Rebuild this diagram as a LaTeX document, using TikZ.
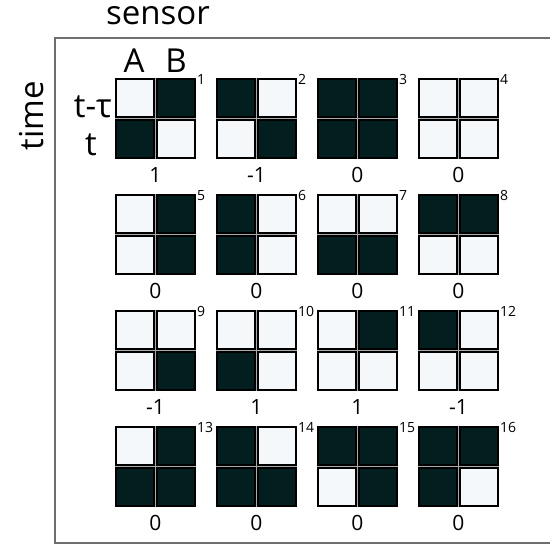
\documentclass[tikz,border=0pt]{standalone}
\usepackage{fontspec}
\setmainfont{Open Sans}
\definecolor{dk}{RGB}{3,30,30}
\definecolor{lt}{RGB}{245,248,250}
\definecolor{gapc}{RGB}{170,170,170}
\definecolor{frm}{RGB}{110,110,110}
\tikzset{
  cell/.style={draw=black,line width=1.7pt,minimum size=38.3pt,inner sep=0pt,outer sep=0pt},
  darkc/.style={cell,fill=dk},
  lightc/.style={cell,fill=lt},
  idx/.style={font=\fontsize{14}{14}\selectfont,anchor=base west,inner sep=0pt},
  val/.style={font=\fontsize{21}{21}\selectfont,anchor=base,inner sep=0pt},
  big/.style={font=\fontsize{33}{33}\selectfont,inner sep=0pt}
}
\begin{document}
\begin{tikzpicture}[x=1pt,y=-1pt]
\useasboundingbox (0,0) rectangle (550,544);
\draw[frm,line width=1.5pt] (55,38) rectangle (570,543);
\node[big,anchor=base] (sensor) at (158,24) {sensor};
\node[big,anchor=base,rotate=90] (time) at (43,116) {time};
\node[big,anchor=base] (A) at (134,72) {A};
\node[big,anchor=base] (B) at (176,72) {B};
\node[big,anchor=base east] (ttau) at (112,117) {t-τ};
\node[big,anchor=base east] (t) at (97,155) {t};
\foreach \n/\a/\b/\c/\d/\v in {
  1/0/1/1/0/1, 2/1/0/0/1/-1, 3/1/1/1/1/0, 4/0/0/0/0/0,
  5/0/1/0/1/0, 6/1/0/1/0/0, 7/0/0/1/1/0, 8/1/1/0/0/0,
  9/0/0/0/1/-1, 10/0/0/1/0/1, 11/0/1/0/0/1, 12/1/0/0/0/-1,
  13/0/1/1/1/0, 14/1/0/1/1/0, 15/1/1/0/1/0, 16/1/1/1/0/0} {
  \pgfmathsetmacro{\col}{mod(\n-1,4)}
  \pgfmathsetmacro{\row}{int((\n-1)/4)}
  \pgfmathsetmacro{\gx}{115+101*\col}
  \pgfmathsetmacro{\gy}{78+116*\row}
  \fill[gapc] (\gx,\gy) rectangle ++(81,81);
  \ifnum\a=1 \def\sa{darkc}\else\def\sa{lightc}\fi
  \ifnum\b=1 \def\sb{darkc}\else\def\sb{lightc}\fi
  \ifnum\c=1 \def\sc{darkc}\else\def\sc{lightc}\fi
  \ifnum\d=1 \def\sd{darkc}\else\def\sd{lightc}\fi
  \node[\sa] (g\n a) at (\gx+20,\gy+20) {};
  \node[\sb] (g\n b) at (\gx+61,\gy+20) {};
  \node[\sc] (g\n c) at (\gx+20,\gy+61) {};
  \node[\sd] (g\n d) at (\gx+61,\gy+61) {};
  \node[idx] (n\n) at (\gx+82,\gy+6) {\n};
  \node[val] (v\n) at (\gx+40.5,\gy+104) {\v};
}
\end{tikzpicture}
\end{document}
